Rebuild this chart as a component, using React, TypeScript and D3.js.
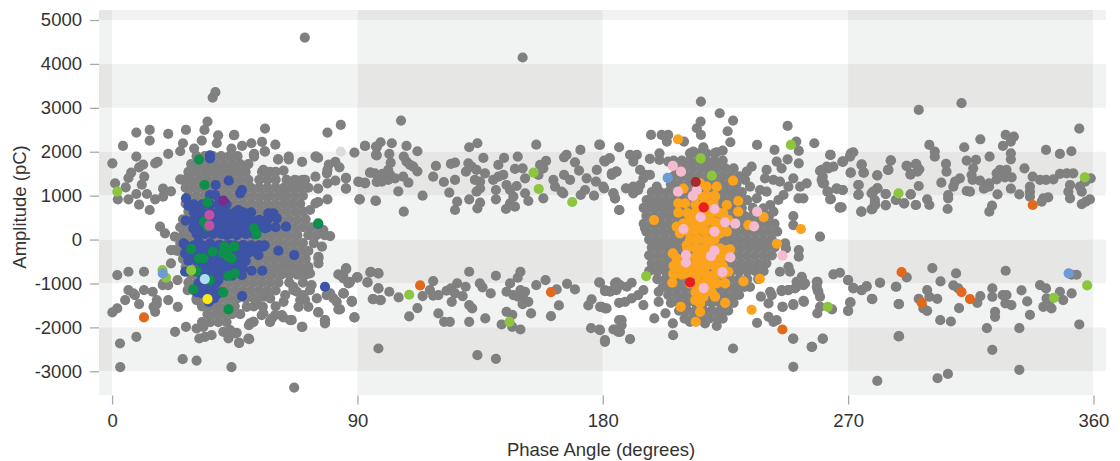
import React, { useRef, useEffect } from "react";
import * as d3 from "d3";

type Pt = [number, number];

const phaseTicks = [0, 90, 180, 270, 360];
const ampTicks = [5000, 4000, 3000, 2000, 1000, 0, -1000, -2000, -3000];
const phaseBands: [number, number, boolean][] = [[-4.8, 0, true], [0, 90, false], [90, 180, true], [180, 270, false], [270, 360, true], [360, 364.6, false]];
const ampBands: [number, number, boolean][] = [[5228, 5000, true], [5000, 4000, false], [4000, 3000, true], [3000, 2000, false], [2000, 1000, true], [1000, 0, false], [0, -1000, true], [-1000, -2000, false], [-2000, -3000, true], [-3000, -3540, false]];

// dense part of the discharge cloud near 40 degrees: [amplitude, phases]
const leftCloud: [number, number[]][] = [
	[1900, [31, 34, 37, 40, 43, 46]],
	[1720, [29, 32, 35, 38, 41, 44, 47, 50]],
	[1540, [28, 31, 34, 37, 40, 43, 46, 49, 55, 58, 60]],
	[1360, [26, 29, 32, 35, 38, 41, 44, 47, 50, 54, 57, 60, 64, 67, 70]],
	[1180, [27, 30, 33, 36, 39, 42, 45, 48, 51, 54, 57, 60, 63, 66, 69, 72]],
	[1000, [28, 31, 34, 37, 40, 43, 46, 49, 52, 55, 58, 61, 64, 67, 70]],
	[820, [27, 30, 33, 36, 39, 42, 45, 48, 51, 54, 57, 60, 63, 66, 69]],
	[640, [28, 31, 34, 37, 40, 43, 46, 49, 52, 55, 58, 61, 64, 67, 70]],
	[460, [26, 29, 32, 35, 38, 41, 44, 47, 50, 53, 56, 59, 62, 65, 68, 71]],
	[280, [25, 28, 31, 34, 37, 40, 43, 46, 49, 52, 55, 58, 61, 64, 67, 70, 73, 76]],
	[100, [26, 29, 32, 35, 38, 41, 44, 47, 50, 53, 56, 59, 62, 65, 68, 72, 75, 78]],
	[-80, [25, 28, 31, 34, 37, 40, 43, 46, 49, 52, 55, 58, 61, 64, 67, 70, 74]],
	[-260, [24, 27, 30, 33, 36, 39, 42, 45, 48, 51, 54, 57, 60, 63, 66, 69, 72]],
	[-440, [26, 29, 32, 35, 38, 41, 44, 47, 50, 53, 56, 59, 62, 65, 68, 71]],
	[-620, [27, 30, 33, 36, 39, 42, 45, 48, 51, 54, 57, 60, 63, 66, 69, 72]],
	[-800, [29, 32, 35, 38, 41, 44, 47, 50, 53, 56, 59, 62, 65, 68, 71]],
	[-980, [28, 31, 34, 37, 40, 43, 46, 49, 52, 55, 58, 61, 65, 70]],
	[-1160, [30, 33, 36, 39, 42, 45, 48, 51, 54, 57, 60]],
	[-1340, [31, 34, 37, 40, 43, 46, 49, 52, 58]],
	[-1520, [33, 36, 39, 42, 45, 52, 60]],
	[-1700, [35, 38, 41, 44, 47]],
	[-1880, [33, 36, 39, 42]],
];

// dense part of the cloud near 218 degrees
const rightCloud: [number, number[]][] = [
	[1965, [212, 215, 218, 221]],
	[1800, [206, 209, 212, 215, 218, 221, 224]],
	[1620, [207, 210, 213, 216, 219, 222, 225, 228]],
	[1440, [206, 209, 212, 215, 218, 221, 224, 227, 230]],
	[1260, [205, 208, 211, 214, 217, 220, 223, 226, 229]],
	[1080, [198, 201, 204, 207, 210, 213, 216, 219, 222, 225, 228, 231]],
	[900, [197, 200, 203, 206, 209, 212, 215, 218, 221, 224, 227, 230, 233]],
	[720, [195, 198, 201, 204, 207, 210, 213, 216, 219, 222, 225, 228, 231, 235]],
	[540, [196, 199, 202, 205, 208, 211, 214, 217, 220, 223, 226, 229, 232, 235, 238, 241]],
	[360, [195, 198, 201, 204, 207, 210, 213, 216, 219, 222, 225, 228, 231, 234, 237, 240, 243]],
	[180, [196, 199, 202, 205, 208, 211, 214, 217, 220, 223, 226, 229, 232, 235, 238, 241, 244]],
	[0, [197, 200, 203, 206, 209, 212, 215, 218, 221, 224, 227, 230, 233, 236, 239, 242]],
	[-180, [198, 201, 204, 207, 210, 213, 216, 219, 222, 225, 228, 231, 234, 237, 240, 243]],
	[-360, [197, 200, 203, 206, 209, 212, 215, 218, 221, 224, 227, 230, 233, 236, 239, 242]],
	[-540, [198, 201, 204, 207, 210, 213, 216, 219, 222, 225, 228, 231, 234, 237, 240]],
	[-720, [197, 200, 203, 206, 209, 212, 215, 218, 221, 224, 227, 230, 233, 236, 239]],
	[-900, [200, 203, 206, 209, 212, 215, 218, 221, 224, 227, 230, 233, 237]],
	[-1080, [202, 205, 208, 211, 214, 217, 220, 223, 226, 229, 232, 234]],
	[-1260, [204, 207, 210, 213, 216, 219, 222, 225, 228, 230]],
	[-1440, [205, 208, 211, 214, 217, 220, 223, 226, 228]],
	[-1620, [208, 211, 214, 217, 220, 223, 226]],
	[-1800, [210, 213, 216, 219, 222, 224]],
];

const grayLeft: Pt[] = [
	[70.7, 4601], [37.9, 3356], [36.9, 3233], [35, 2686], [0.1, 1737], [4, 2132], [8.9, 2436], [13.8, 2497], [13.8, 2254], [20.6, 2406], [27.1, 2497], [33.9, 2497], [26, 2193], [30.1, 2071], [25, 2011], [20.6, 1950], [8.9, 1889], [16.7, 1767], [15.8, 1737], [11.4, 1707], [9.9, 1646], [7, 1524], [6, 1402], [11.8, 1433], [1.1, 1281], [10.9, 1251], [5, 1190], [8.9, 1038], [12.8, 1038], [2.1, 916], [6, 916], [9.9, 794], [13.8, 673], [15.8, 916], [18.7, 977], [18.7, 1159], [21.6, 1099], [25, 1372], [28.2, 1524], [32.9, 2254], [38.9, 2375], [38.4, 2193], [44.7, 2375], [56.1, 2528], [43.8, 2071], [47.7, 2132], [51.1, 2193], [55, 2223], [59.9, 2162], [52.1, 1950], [52.1, 1889], [56, 2011], [60.9, 1828], [64.8, 1889], [64.8, 1828], [69.7, 1767], [74.6, 1889], [75.6, 1859], [79, 2436], [83.9, 2611], [88.9, 1980], [92.8, 2132], [97.1, 2102], [97.1, 1919], [79.5, 1707], [81.9, 1767], [83.4, 1646], [79, 1585], [81.9, 1342], [79, 1281], [85.8, 1403], [85.8, 1159], [74.6, 1433], [75.6, 1159], [75.6, 855], [79, 916], [74.6, 825], [90.7, 916], [96.6, 886], [90.7, 1311], [92.8, 1281], [94.6, 1524], [97.1, 1311], [72.6, 673], [17.6, 293],
	[19.4, 141], [23, 65], [21.6, -239], [23, -239], [21.6, -543], [24, -923], [18.8, -1000], [27.7, -1151], [31, -1379], [33, -1493], [75.7, -543], [75.7, -391], [77, -163], [85.8, -657], [83.6, -809], [90, -862], [87.3, -961], [66.5, -1151], [70.2, -1265], [72.6, -1151], [73.2, -1037], [78.7, -1265], [81.2, -1341], [83, -1592], [84.8, -1227], [87.9, -1394], [88.9, -1774], [75.7, -1660], [78.1, -1835], [78.1, -1911], [69.6, -1987], [65.9, -1835], [62.8, -1774], [59.8, -1721], [57.9, -1873], [54.9, -1721], [50.6, -1911], [51.8, -1873], [50, -2253], [46.6, -2352], [45.7, -2124], [42.7, -2253], [43.3, -2063], [40.8, -2101], [36.5, -2177], [34.1, -2215], [32, -2253], [33.5, -1987], [31, -2025], [27.1, -1987], [23.1, -2101], [24.1, -1531], [20.6, -1379], [16.4, -1379], [15.8, -1645], [15.2, -1531], [16.4, -1470], [9.9, -1470], [4.8, -1379], [6, -1151], [7.8, -1227], [8.4, -1265], [11.7, -1151], [14.9, -1189], [1.9, -1569], [0.1, -1660], [2.9, -2367], [8.9, -2215], [3, -2907], [25.9, -2724], [31, -2755], [43.8, -2907], [66.8, -3370], [1.9, -809], [6, -733], [11.7, -733], [18.6, -1037], [20.6, -1037],
	[44.8, 2383], [52, 1927], [56.1, 2003], [60.9, 1828], [62.9, 1570], [55.5, 1585], [70.8, 1357], [68.4, 1342], [62.9, 1091], [74.9, 1889], [78.8, 1509], [80, 80], [77.5, 217], [75.7, -429], [72.6, -771], [70.8, -694], [80, -1227], [82.4, -1417], [84.9, -1227], [88, -1417], [83, -794], [85.9, -657], [84.9, -886], [86.7, -1000], [89.8, -862], [93.7, -976], [94.7, -748], [97.7, -771], [95.9, -1356], [97.7, -1113], [98.3, -1379], [78.1, -1835], [75.6, -1653], [69.8, -1987], [65.3, -1835], [62.3, -1721], [58, -1873], [58.6, -1797], [55.5, -1683], [51.9, -1873], [50.2, -1949], [46.6, -2352], [50.3, -2268], [45.1, -2139], [63.5, -1265], [62.9, -1417], [67.8, -1189], [69, -1379], [68.4, -1531], [72, -1531], [70.8, -1379], [75.1, -1341], [66.5, -1075], [55.5, -1303], [53.1, -1379], [49.4, -1531], [55.3, -1531],
];

const grayMiddleUpper: Pt[] = [
	[150.6, 4146], [106, 2710], [92.8, 2132], [96.8, 2117], [98.5, 2216], [102.6, 2193], [108, 2132], [112, 2011], [96.8, 1927], [101.7, 1950], [107, 1889], [102.2, 1752], [101.3, 1585], [108, 1775], [109.3, 1699], [110.5, 1661], [112, 1555], [118.8, 1676], [94.8, 1524], [96.4, 1509], [99.2, 1494], [102, 1471], [106.8, 1433], [108.7, 1296], [103.8, 1395], [101.3, 1357], [98.9, 1319], [97.3, 1319], [92.8, 1296], [90.3, 1319], [85.8, 1395], [85.8, 1167], [105, 1099], [113.9, 1000], [90.9, 916], [96.8, 878], [107, 635],
	[117.8, 1433], [121.7, 1311], [125.8, 1357], [124.3, 1722], [125.8, 1752], [131, 2102], [134, 2193], [136.2, 1859], [130.7, 1737], [131.9, 1661], [129.8, 1547], [133.7, 1585], [136.8, 1509], [133.1, 1357], [135, 1319], [123.7, 1068], [135, 1167], [133.7, 1091], [131, 916], [126.6, 863], [125.8, 673], [135, 840], [134, 711], [140.8, 916], [140.8, 1129], [139.8, 1357], [141.7, 1433], [143.5, 1471], [141.7, 1699], [143.8, 1859], [148.8, 1889], [147.8, 1608], [150.6, 1623], [151.5, 1395], [144.7, 1243], [148.4, 1220], [146, 1129], [147.2, 977], [146, 825], [144.5, 696], [147.8, 749], [152.7, 878], [151.5, 1053], [155.6, 2162], [157, 1699], [159.2, 1790], [158.2, 1623], [156.4, 1471], [161.9, 1357], [162.5, 1205], [158.2, 939], [164.9, 1091], [165.5, 1053], [165.8, 1471], [168, 1357], [166.7, 1927], [165.8, 1874], [171.8, 2041], [169.8, 1760], [171.3, 1570], [174.1, 1395], [177.5, 1319], [180.2, 1205], [177.8, 1585], [180.8, 1775], [182.6, 1851], [178.7, 2162], [186, 2102], [173.5, 1129], [171.9, 1015], [176.8, 1000], [183.3, 1509], [185.1, 1547], [183.9, 1053], [184.5, 939], [186, 673],
];

const grayMiddleLower: Pt[] = [
	[85.8, -680], [84.8, -809], [87, -984], [85, -1227], [90, -862], [94.9, -733], [97.7, -771], [93.7, -976], [97.7, -1113], [101.7, -1189], [105.1, -1318], [95.6, -1356], [98.6, -1379], [87.9, -1409], [83.6, -1592], [88.9, -1774], [97.7, -2481],
	[112, -1561], [109, -1751], [113.9, -1288], [117.8, -946], [116.6, -1151], [117.8, -1280], [119.7, -1265], [122.7, -1166], [124.3, -1113], [126.6, -999], [125.8, -1227], [124.6, -1417], [128.6, -1288], [129.7, -1075], [131, -733], [119.7, -1683], [121.8, -1873], [123.9, -1873], [131, -1873], [131, -1493], [132.1, -1569], [136.9, -1797], [134.9, -999], [135.9, -1090], [138.9, -1227], [140.8, -824], [144.7, -1189], [146, -999], [148.8, -870], [149.8, -733], [147.2, -1265], [149.8, -1151], [151.5, -1189], [149, -1303], [150.8, -1341], [152.7, -1417], [150.6, -1470], [153.7, -1683], [144.7, -1645], [146.8, -1713], [142.9, -1934], [146.8, -1987], [149.8, -2048], [134, -2633], [140.8, -2717],
	[155.6, -1037], [159, -923], [163.1, -1136], [163.9, -1501], [161, -1744], [166.9, -1007], [169.8, -1136], [178.7, -976], [180.8, -1174], [182.6, -1174], [185.1, -976], [185.1, -1113], [174.7, -1501], [175.9, -1364], [179.6, -1531], [181.4, -1569], [175.7, -2017], [178.7, -2048], [180.8, -2329], [183.9, -2048], [185.7, -2101], [186, -1440], [186, -1835],
];

const grayRightCluster: Pt[] = [
	[216, 3143], [222.9, 2877], [227.8, 2710], [247.8, 2588], [215.9, 2687], [214.5, 2535], [216, 2383], [225.8, 2467], [197.7, 2383], [201.6, 2383], [204, 2383], [203.5, 2231], [209.8, 2231], [226.8, 2216], [236.6, 2155], [243, 2041], [251, 2231], [251.9, 2018], [247.8, 1828], [251.9, 1737], [257.6, 2193], [263.4, 1927], [271, 1965], [267.9, 1775], [271, 1524], [262.8, 1623], [260.3, 1585], [260.3, 1357], [261.2, 1281], [265.8, 1152], [268, 1129], [262.4, 1091], [263.4, 916], [266.9, 734],
	[179, 2155], [190, 1927], [192.5, 1927], [191.2, 1775], [197.3, 1836], [200.8, 1965], [200.8, 1813], [204, 1775], [213.2, 2003], [221.8, 1988], [224, 2026], [216.9, 2102], [182.4, 1851], [180.5, 1798], [184.9, 1547], [183.3, 1471], [193.7, 1585], [195.5, 1471], [197.3, 1471], [194.9, 1395], [180.5, 1167], [183.9, 1053], [184.5, 939], [188.5, 1167], [191.2, 1205], [193.7, 1243], [191.2, 1053], [193, 1129], [186.1, 673], [199.8, 1205], [196.1, 901], [196.1, 749], [195.5, 255],
	[234.6, 1661], [232.8, 1547], [232.2, 1357], [234, 1205], [240.1, 1585], [239.5, 1395], [242.6, 1357], [245, 1319], [243.8, 1775], [245.6, 1623], [249.9, 1395], [252.4, 1205], [254.8, 1281], [248.1, 1205], [246.3, 1015], [244.4, 901], [251.8, 939], [253.6, 939], [240.1, 1091], [237.7, 1129], [236.5, 939], [241.4, 787], [242.6, 635], [238.9, 711], [249.9, 536], [249.9, 331], [259.7, 65], [246.9, -87], [247.2, -201], [251.9, -239], [251.9, -391], [245, -733], [248.1, -619], [248.7, -733], [251.1, -961], [253, -885], [253.6, -1037], [245.6, -1151], [248.1, -1151], [250.5, -1113], [258.5, -961], [258.5, -1075], [259.1, -1189], [241.4, -1189], [242, -1265], [240.8, -1455], [245.9, -1531], [249.9, -1493], [253.6, -1394], [240.8, -1759], [242.6, -1873], [243.8, -1835], [236.6, -1896], [249.8, -2253], [260.7, -2253], [256.6, -2443], [227.8, -2481], [221.8, -1964], [205.8, -2177], [205.7, -1911], [198.9, -1797], [212, -1873], [217.5, -1911],
	[179, -984], [184.5, -999], [186.3, -1037], [188.8, -1075], [190.6, -984], [180.8, -1151], [182.7, -1189], [185, -1151], [194.9, -1151], [193, -1265], [190.6, -1341], [188.2, -1417], [194.9, -1493], [186.9, -1835], [186.9, -1949], [180.8, -1569], [179, -1531], [184.5, -2048], [186.3, -2101], [190, -2268], [180.8, -2291], [179, -2063], [238, -1300], [200.5, -1420], [203, -1680], [200.5, -1190],
	[263.6, 1927], [271.9, 1988], [270.9, 1927], [268, 1775], [275, 1714], [275.8, 1524], [270.9, 1524], [285.7, 1805], [280.7, 1463], [284.8, 1585], [291.5, 1676], [292.9, 1494], [295.1, 1699], [295.4, 1547], [264.6, 1661], [262.2, 1661], [259.7, 1562], [260.7, 1433], [260.7, 1281], [262.6, 1091], [263.7, 924], [267, 726], [265.8, 1167], [268, 1129], [273.9, 1243], [273.9, 1030], [280.8, 1167], [279.2, 1091], [279.8, 900], [283.8, 1038], [287.6, 901], [290.6, 825], [294.8, 787], [293, 1030], [283.8, 779], [279.9, 787], [278.9, 696], [274.8, 635],
	[264.6, -794], [267, -756], [270, -923], [271.9, -1098], [275, -1151], [276.8, -1060], [281.7, -984], [287.7, -1075], [278.9, -1356], [288.7, -1470], [270.9, -1432], [270, -1622], [259.7, -1531], [258.7, -1683], [264.1, -1592], [258.8, -961], [258.8, -1151], [259.7, -1303], [253.8, -1417], [249.9, -1470], [246, -1531], [253, -847], [254.2, -1000], [251.1, -1075], [248, -1151], [245.6, -1174], [288.7, -2200], [249.9, -2261], [260.7, -2261], [256.8, -2443], [249.9, -2899],
];

const grayFarRight: Pt[] = [
	[295.9, 2953], [311.6, 3105], [354.8, 2527], [327.8, 2383], [330.8, 2345], [329.7, 2231], [318.5, 2284], [299.8, 2155], [312.6, 2102], [326.8, 2132], [301.8, 2003], [301.8, 1888], [342.6, 2041], [347.7, 1950], [351.9, 2011], [329.7, 1965], [329.7, 1828], [321.9, 1889], [313.5, 1798], [316.9, 1813], [305.9, 1722], [294.9, 1722], [291.5, 1676], [296.1, 1600], [285.6, 1798], [274.9, 1699], [275.6, 1524], [284.6, 1585], [280.7, 1463], [292.9, 1478],
	[315.9, 1623], [306.1, 1547], [315.3, 1470], [311, 1395], [309.2, 1319], [308.6, 1205], [304.2, 1296], [315.7, 1357], [318.4, 1342], [321.7, 1281], [324.5, 1509], [325.7, 1585], [328.1, 1585], [324.5, 1372], [327.5, 1418], [330, 1418], [334.7, 1623], [337.7, 1433], [340.4, 1357], [342.6, 1357], [345.3, 1372], [347.7, 1494], [350.2, 1509], [352.6, 1509], [359, 1395], [356.9, 1319], [351.4, 1243], [355, 1205], [355.7, 1091], [350.8, 1091], [351.4, 939], [358.7, 916], [355.7, 809], [357.2, 863],
	[341.6, 939], [343.4, 962], [341, 863], [336.7, 1205], [336.7, 1091], [336.7, 977], [332.8, 1030], [329.7, 1159], [324.8, 1030], [319.8, 1159], [321.7, 1205], [313.5, 1106], [314.7, 1091], [306.7, 1015], [306.7, 939], [306.5, 696], [322.8, 772], [321.8, 635],
	[295.9, 1220], [292.9, 1030], [287.5, 901], [290.5, 825], [294.9, 787], [299, 916], [299.8, 787], [283.8, 1038], [283.8, 787], [280.7, 1167], [278.6, 1053], [279.8, 825], [278.6, 688], [274.9, 635], [273.7, 1243], [273.7, 1015], [268, 1129], [267.6, 734], [268.2, 1775], [270.7, 1888],
	[300.9, -649], [309.6, -771], [327.8, -710], [353.8, -801], [352, -801], [291.5, -862], [281.7, -984], [270, -923], [276.8, -1075], [274.9, -1151], [271.9, -1113], [287.5, -1075], [278.7, -1349], [270.7, -1432], [270, -1622], [288.5, -1470], [303.9, -953], [308.6, -1045], [310.4, -1113], [299, -1151], [299.8, -1303], [302.7, -1349], [295.9, -1349], [297.6, -1569], [299, -1622], [303.8, -1835], [307.7, -1866], [310.7, -1561], [317.4, -1440], [318.5, -1288], [322.9, -1113], [322.9, -1303], [326.7, -1265], [328.1, -1265], [327.7, -1455], [329.9, -1493], [323.9, -1645], [323.9, -1759], [320.9, -2017], [332.8, -2017], [336.7, -1713], [333.6, -1159], [335.7, -1409], [340.4, -1037], [342.6, -1113], [342.8, -1341], [341.6, -1531], [344.6, -1569], [344, -1379], [347.7, -1189], [348.9, -1379], [352, -1227], [354.8, -1934], [288.5, -2207], [322.9, -2511], [332.8, -2967], [280.7, -3219], [302.8, -3158], [306.6, -3059],
];

const paleGray: Pt[] = [[83.9, 2003]];

// solid lobes of the blue series
const blueCloud: [number, number[]][] = [
	[800, [30, 33, 36, 39, 42]],
	[620, [30, 33, 36, 39, 42, 45, 48, 51]],
	[450, [30, 33, 36, 39, 42, 45, 48, 51, 54, 57]],
	[280, [30, 33, 36, 39, 42, 45, 48, 51, 54, 57, 60]],
	[130, [31, 34, 37, 40, 43, 46, 49, 52]],
	[-130, [27, 30, 33, 36, 39, 42, 45, 48, 51, 54, 56]],
	[-300, [27, 30, 33, 36, 39, 42, 45, 48, 50]],
	[-480, [28, 31, 34, 37, 40, 43, 46, 49]],
	[-650, [33, 36, 39, 42, 45, 48]],
	[-820, [33, 36, 39, 42, 44]],
	[-1000, [32, 35, 38]],
	[-1200, [31, 34, 37, 40]],
];

const bluePoints: Pt[] = [
	[35.9, 1919], [35.9, 1851], [38, 1243], [42.8, 1342], [47.6, 1129], [47, 1053], [27.1, 939], [28, 764], [35.9, 1015], [37.8, 1015], [39.4, 863], [31, 635], [32.9, 673], [31.7, 521], [29.8, 255], [27, 430], [35.3, 483], [38.4, 597], [40.8, 635], [42.7, 483], [46.3, 673], [48.8, 597], [45.7, 445], [48.2, 445], [50.6, 369], [57.3, 597], [59.2, 597], [60.4, 483], [56.7, 445], [54.9, 331], [56.1, 255], [63.8, 293], [51.8, 293], [43.9, 293], [39, 293], [36.6, 217], [33.5, 179], [31, 179], [46.9, 179], [49.4, 141], [42.1, 103], [45.7, 103], [39.6, 141], [31, 293], [34.7, 331], [40.8, 369], [37.8, 445], [43.3, 217], [48.8, 293], [45.7, 255],
	[26.2, -87], [27.4, -201], [31.7, -49], [35.9, -87], [39.6, -125], [43.3, -125], [48.2, -125], [53.1, -163], [55.3, -163], [61, -254], [52.5, -277], [53.7, -353], [66.8, -353], [26.8, -315], [28, -391], [31, -277], [34.7, -277], [38.4, -239], [45.7, -315], [47.6, -353], [48.8, -467], [46.9, -543], [35.9, -467], [37.8, -505], [40.2, -429], [32.9, -467], [39, -619], [36.6, -657], [34.7, -695], [37.8, -771], [40.8, -695], [44.5, -619], [31, -733], [26.8, -733], [47.6, -809], [51.2, -710], [55.1, -710], [31.7, -999], [35.9, -923], [39, -923], [34.7, -1075], [32.9, -1227], [35.9, -1227], [39, -1227], [35.5, -1417], [37.4, -1341], [47.7, -1288], [33.5, -163], [42.1, -505], [43.3, -619], [78.1, -1075], [75.6, 354],
];

const greenPoints: Pt[] = [
	[31.9, 1821], [33.9, 1243], [35, 848], [33.7, 407], [35, 293], [52.1, 255], [53, 126], [29, -216], [31.9, -429], [33.5, -429], [36.9, -277], [41.1, -163], [44.8, -163], [40.8, -315], [42.7, -391], [43.9, -429], [42, -277], [42.7, -824], [45.1, -771], [31, -718], [35.9, -923], [29.8, -1136], [40.8, -1204], [42.7, -1592], [75.6, 369],
];

// solid column of the orange series
const orangeCloud: [number, number[]][] = [
	[1000, [215, 218, 221]],
	[800, [214, 217, 220]],
	[600, [211, 214, 217, 220, 223]],
	[400, [212, 215, 218, 221, 224]],
	[200, [211, 214, 217, 220, 223]],
	[0, [212, 215, 218, 221]],
	[-200, [211, 214, 217, 220, 223]],
	[-400, [211, 214, 217, 220, 223]],
	[-600, [206, 209, 212, 215, 218, 221, 224]],
	[-800, [206, 209, 212, 215, 218, 221, 224]],
	[-1000, [212, 215, 218, 221]],
	[-1200, [214, 217, 220]],
];

const orangePoints: Pt[] = [
	[207.6, 2284], [227.8, 1342], [198.8, 445], [239, 513], [252.7, 240], [243.9, -95], [237.6, -893], [231.6, -953], [234.6, -1599], [214.1, -1873], [208.6, -1531], [224.9, -1440], [205.5, -984],
	[209.6, 1159], [207.7, 825], [210.2, 825], [207.7, 612], [207.1, 293], [208.3, 141], [209.6, 369], [215.7, 1281], [218.1, 1205], [217.5, 977], [221.8, 1205], [221.2, 977], [220.6, 825], [229.7, 878], [229.7, 635], [225.5, 787], [224.2, 597], [226.1, 445], [225.5, 179], [221.8, 369], [223, 141], [216.9, 749], [214.5, 673], [212, 521], [215.7, 369], [213.2, 217], [218.1, 521], [216.9, 217], [214.5, -11], [218.1, -11], [220.6, -11], [210.8, -125], [215.7, -239], [218.1, -239], [214.5, -467], [216.9, -467], [220.6, -543], [205.7, -315], [207.1, -429], [208.3, -695], [205.9, -771], [209.6, -771], [212, -619], [214.5, -771], [216.9, -695], [219.4, -847], [221.8, -771], [224.9, -999], [221.8, -999], [226.1, -733], [225.5, -239], [226.7, -224], [224.2, -391], [213.9, -1379], [215.7, -1455], [215.7, -1645], [221.2, -1303], [219.4, -1151], [216.9, -1303], [214.5, -1075], [218.1, -923], [233.4, 331],
];

const pinkPoints: Pt[] = [
	[205.7, 1676], [208.7, 1547], [207.6, 1091], [214.5, 1129], [213, 992], [221, 696], [215.9, 513], [236.6, 635], [224.9, 392], [228.6, 361], [235.5, 301], [209.6, 240], [221, 179], [245.9, -368], [221, -254], [219.7, -376], [226.8, -406], [210.5, -353], [210.5, -520], [223.9, -741], [217, -1105],
];

const limePoints: Pt[] = [
	[1.9, 1091], [154.6, 1524], [156.5, 1152], [168.8, 855], [109, -1257], [145.8, -1873], [29, -703], [18.5, -695], [19.8, -870], [249, 2155], [195.9, -832], [262.5, -1531], [215.9, 1851], [220, 1456], [288.5, 1053], [356.8, 1418], [345.5, -1326], [357.7, -1045],
];

const rustPoints: Pt[] = [
	[11.7, -1774], [113, -1045], [161, -1197], [245.9, -2048], [337.7, 787], [289.6, -741], [297, -1440], [311.6, -1197], [314.7, -1356],
];

const magentaPoints: Pt[] = [[35.7, 559], [35.7, 316]];
const purplePoints: Pt[] = [[40.8, 886]];
const redPoints: Pt[] = [[217, 734], [212, -976]];
const darkRedPoints: Pt[] = [[214.1, 1311]];
const cornflowerPoints: Pt[] = [[18.6, -771], [203.8, 1403], [350.9, -771]];
const skyPoints: Pt[] = [[34, -900]];
const yellowPoints: Pt[] = [[35, -1356]];

const fromRows = (rows: [number, number[]][]): Pt[] =>
	rows.flatMap(([amp, phases]) => phases.map((p): Pt => [p, amp]));

const layers: [Pt[], string][] = [
	[fromRows(leftCloud), "#808080"],
	[fromRows(rightCloud), "#808080"],
	[grayLeft, "#808080"],
	[grayMiddleUpper, "#808080"],
	[grayMiddleLower, "#808080"],
	[grayRightCluster, "#808080"],
	[grayFarRight, "#808080"],
	[paleGray, "#dcdcdc"],
	[fromRows(blueCloud), "#3d52a5"],
	[bluePoints, "#3d52a5"],
	[greenPoints, "#0e9048"],
	[fromRows(orangeCloud), "#fba31b"],
	[orangePoints, "#fba31b"],
	[pinkPoints, "#f5b9d0"],
	[limePoints, "#8cc63e"],
	[rustPoints, "#e2691f"],
	[magentaPoints, "#c54fa5"],
	[purplePoints, "#7b2b8c"],
	[redPoints, "#ec1c24"],
	[darkRedPoints, "#a6292d"],
	[cornflowerPoints, "#6e9bd6"],
	[skyPoints, "#acdff0"],
	[yellowPoints, "#f8e816"],
];

const fontFamily = "'Liberation Sans', Arial, sans-serif";

const App = () => {
	const xAxisRef = useRef<SVGGElement>(null);
	const yAxisRef = useRef<SVGGElement>(null);

	const xScale = d3.scaleLinear().domain([-4.8, 364.6]).range([99, 1106]);
	const yScale = d3.scaleLinear().domain([5228, -3540]).range([10, 395]);

	useEffect(() => {
		// axes, then restyle what d3 made
		const xAxis = d3.axisBottom(xScale).tickValues(phaseTicks).tickSize(9).tickPadding(9.5).tickFormat(d => String(d));
		const yAxis = d3.axisLeft(yScale).tickValues(ampTicks).tickSize(9).tickPadding(8).tickFormat(d => String(d));
		d3.select(xAxisRef.current).call(xAxis);
		d3.select(yAxisRef.current).call(yAxis);
		[xAxisRef, yAxisRef].forEach(r => {
			const g = d3.select(r.current);
			g.select(".domain").remove();
			g.selectAll("line").attr("stroke", "#a9a9a9").attr("stroke-width", 1.3);
			g.selectAll("text")
				.attr("fill", "#333")
				.style("font-family", fontFamily)
				.style("font-size", "18.5px");
		});
	}, []);

	const cellFill = (a: boolean, b: boolean) => (a && b ? "#e6e6e5" : a || b ? "#f1f2f2" : "#ffffff");

	return (
		<svg width={1120} height={461} style={{ position: "absolute", left: 0, top: 0 }}>
			<defs>
				<filter id="soft" x="-2%" y="-2%" width="104%" height="104%">
					<feGaussianBlur stdDeviation={0.5} />
				</filter>
			</defs>
			<rect width={1120} height={461} fill="#fff" />
			{phaseBands.map(([x0, x1, xOn]) =>
				ampBands.map(([y0, y1, yOn]) => (
					<rect
						key={`${x0}_${y0}`}
						x={xScale(x0)}
						y={yScale(y0)}
						width={xScale(x1) - xScale(x0)}
						height={yScale(y1) - yScale(y0)}
						fill={cellFill(xOn, yOn)}
					/>
				))
			)}
			<g ref={xAxisRef} transform="translate(0,395.5)" />
			<g ref={yAxisRef} transform="translate(99,0)" />
			<g filter="url(#soft)">
				{layers.map(([points, color], i) => (
					<g key={i} fill={color}>
						{points.map((d, j) => (
							<circle key={j} cx={xScale(d[0])} cy={yScale(d[1])} r={5.1} />
						))}
					</g>
				))}
			</g>
			<text x={601} y={455.5} textAnchor="middle" fill="#333" fontFamily={fontFamily} fontSize={18.5}>
				Phase Angle (degrees)
			</text>
			<text transform="translate(26,207) rotate(-90)" textAnchor="middle" fill="#333" fontFamily={fontFamily} fontSize={18.5}>
				Amplitude (pC)
			</text>
		</svg>
	);
};

export default App;
